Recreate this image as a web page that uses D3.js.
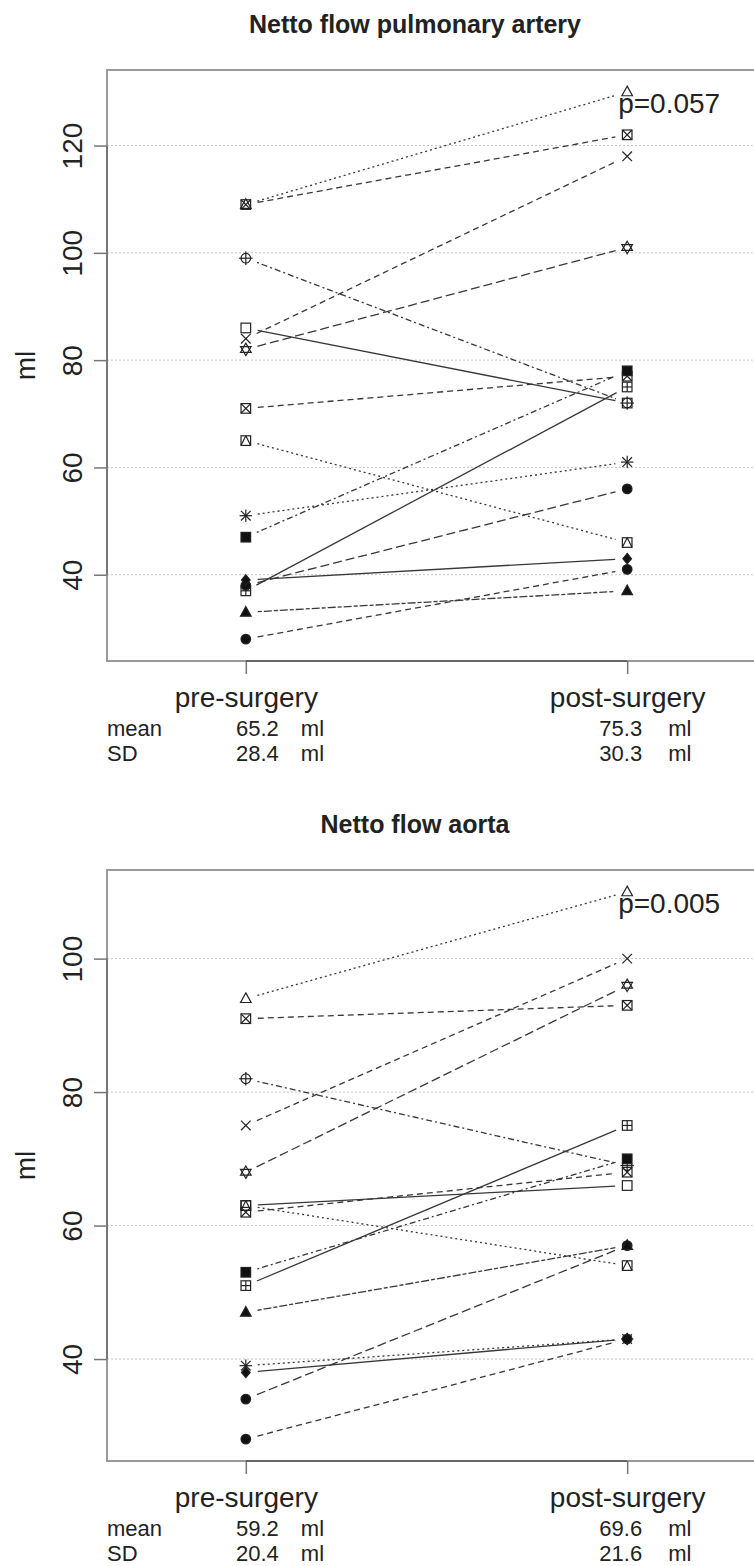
<!DOCTYPE html>
<html>
<head>
<meta charset="utf-8">
<script src="https://cdn.jsdelivr.net/npm/d3@7"></script>
<style>
    body { margin: 0; background: #fff; }
    text { font-family: "Liberation Sans", Arial, Helvetica, sans-serif; fill: #222; }
</style>
</head>
<body>
<svg id="drawing_region"></svg>
<script>
// one entry per patient, same order in every array
const subjects = ['P01','P02','P03','P04','P05','P06','P07','P08','P09','P10','P11','P12','P13','P14','P15'];
const timeLabels = ['pre-surgery', 'post-surgery'];

const arteryPre  = [86, 109, 84, 109, 51, 99, 82, 37, 71, 65, 47, 38, 33, 39, 28];
const arteryPost = [72, 130, 118, 122, 61, 72, 101, 75, 77, 46, 78, 56, 37, 43, 41];
const aortaPre   = [63, 94, 75, 91, 39, 82, 68, 51, 62, 63, 53, 34, 47, 38, 28];
const aortaPost  = [66, 110, 100, 93, 43, 69, 96, 75, 68, 54, 70, 57, 57, 43, 43];

const arteryTicks = [40, 60, 80, 100, 120];
const aortaTicks  = [40, 60, 80, 100];

const arteryMean = ['65.2', '75.3'];
const arterySD   = ['28.4', '30.3'];
const aortaMean  = ['59.2', '69.6'];
const aortaSD    = ['20.4', '21.6'];

const titles  = ['Netto flow pulmonary artery', 'Netto flow aorta'];
const pValues = ['p=0.057', 'p=0.005'];

// plotting symbol and line type per patient (like pch / lty in R)
const pch = ['square','triangle','cross','squareX','asterisk','circlePlus','star6','squarePlus',
             'squareX','squareTri','fSquare','fCircle','fTriangle','fDiamond','fCircle'];
const lty = ['solid','dotted','dashed','dashed','dotted','dotdash','longdash','solid',
             'dashed','dotted','dotdash','longdash','twodash','solid','dashed'];
const dashes = { solid: null, dashed: '6,4', dotted: '2,3', dotdash: '2,3,6,3', longdash: '9,4', twodash: '4,2,8,2' };

const W = 754, H = 1566;
const svg = d3.select('#drawing_region').attr('width', W).attr('height', H);
svg.append('rect').attr('width', W).attr('height', H).attr('fill', '#fff');

function drawSymbol(g, type, cx, cy) {
    const r = 4.8;
    const s = g.append('g')
        .attr('transform', `translate(${cx},${cy})`)
        .attr('stroke', '#222')
        .attr('stroke-width', 1.2)
        .attr('fill', 'none');
    const rect = () => s.append('rect').attr('x', -r).attr('y', -r).attr('width', 2*r).attr('height', 2*r);
    const line = (x1, y1, x2, y2) => s.append('line').attr('x1', x1).attr('y1', y1).attr('x2', x2).attr('y2', y2);
    const poly = pts => s.append('polygon').attr('points', pts.map(p => p.join(',')).join(' '));
    switch (type) {
        case 'square': rect(); break;
        case 'triangle': poly([[0,-r*1.2],[r*1.1,r*0.8],[-r*1.1,r*0.8]]); break;
        case 'cross': line(-r,-r,r,r); line(-r,r,r,-r); break;
        case 'squareX': rect(); line(-r,-r,r,r); line(-r,r,r,-r); break;
        case 'asterisk': line(-r,-r,r,r); line(-r,r,r,-r); line(0,-r*1.3,0,r*1.3); line(-r*1.3,0,r*1.3,0); break;
        case 'circlePlus': s.append('circle').attr('r', r); line(0,-r*1.4,0,r*1.4); line(-r*1.4,0,r*1.4,0); break;
        case 'star6': poly([[0,-r*1.3],[r*1.1,r*0.6],[-r*1.1,r*0.6]]); poly([[0,r*1.3],[r*1.1,-r*0.6],[-r*1.1,-r*0.6]]); break;
        case 'squarePlus': rect(); line(0,-r,0,r); line(-r,0,r,0); break;
        case 'squareTri': rect(); line(-r,r,0,-r); line(0,-r,r,r); break;
        case 'fSquare': rect().attr('fill', '#111'); break;
        case 'fCircle': s.append('circle').attr('r', r).attr('fill', '#111'); break;
        case 'fTriangle': poly([[0,-r*1.2],[r*1.1,r*0.8],[-r*1.1,r*0.8]]).attr('fill', '#111'); break;
        case 'fDiamond': poly([[0,-r*1.1],[r*0.9,0],[0,r*1.1],[-r*0.9,0]]).attr('fill', '#111'); break;
    }
}

function drawPanel(cfg) {
    const top = cfg.top, bottom = cfg.top + 591, left = 107, right = 766;
    const g = svg.append('g');

    // R style 4% extension of the ranges
    const xlim = [0.7, 2.3];
    const xpad = (xlim[1] - xlim[0]) * 0.04;
    const x = d3.scaleLinear().domain([xlim[0] - xpad, xlim[1] + xpad]).range([left, right]);

    const ext = d3.extent(cfg.pre.concat(cfg.post));
    const ypad = (ext[1] - ext[0]) * 0.04;
    const y = d3.scaleLinear().domain([ext[0] - ypad, ext[1] + ypad]).range([bottom, top]);

    // grid
    g.selectAll('.grid').data(cfg.ticks).enter().append('line')
        .attr('x1', left).attr('x2', right)
        .attr('y1', d => y(d)).attr('y2', d => y(d))
        .attr('stroke', '#c4c4c4').attr('stroke-width', 1)
        .attr('stroke-dasharray', '2,2');

    // box
    g.append('rect')
        .attr('x', left).attr('y', top)
        .attr('width', right - left).attr('height', bottom - top)
        .attr('fill', 'none').attr('stroke', '#9a9a9a').attr('stroke-width', 2);

    // y axis
    const yAxis = g.append('g').attr('transform', `translate(${left},0)`)
        .call(d3.axisLeft(y).tickValues(cfg.ticks).tickSize(13).tickFormat(d3.format('d')));
    yAxis.select('.domain').remove();
    yAxis.append('line')
        .attr('y1', y(cfg.ticks[0])).attr('y2', y(cfg.ticks[cfg.ticks.length - 1]))
        .attr('stroke', '#777').attr('stroke-width', 2);
    yAxis.selectAll('.tick line').attr('stroke', '#777').attr('stroke-width', 1.5);
    yAxis.selectAll('.tick text')
        .attr('x', null).attr('dy', null)
        .attr('text-anchor', 'middle')
        .attr('transform', 'translate(-25,0) rotate(-90)')
        .style('font-size', '28px')
        .style('font-family', '"Liberation Sans", Arial, sans-serif')
        .attr('fill', '#222');

    // x axis
    const xAxis = g.append('g').attr('transform', `translate(0,${bottom})`)
        .call(d3.axisBottom(x).tickValues([1, 2]).tickSize(13).tickFormat(d => timeLabels[d - 1]));
    xAxis.select('.domain').remove();
    xAxis.append('line')
        .attr('x1', x(1)).attr('x2', x(2))
        .attr('stroke', '#666').attr('stroke-width', 2);
    xAxis.selectAll('.tick line').attr('stroke', '#777').attr('stroke-width', 1.5);
    xAxis.selectAll('.tick text')
        .attr('y', 46).attr('dy', null)
        .style('font-size', '28px')
        .style('font-family', '"Liberation Sans", Arial, sans-serif')
        .attr('fill', '#222');

    // y label
    g.append('text')
        .attr('transform', `translate(35,${(top + bottom) / 2}) rotate(-90)`)
        .attr('text-anchor', 'middle')
        .style('font-size', '28px')
        .text('ml');

    // title
    g.append('text')
        .attr('x', 415).attr('y', top - 37)
        .attr('text-anchor', 'middle')
        .style('font-size', '25px').style('font-weight', 'bold')
        .text(cfg.title);

    // connecting lines with small gaps around the points
    const gap = 12;
    cfg.pre.forEach((v, i) => {
        const x1 = x(1), y1 = y(v), x2 = x(2), y2 = y(cfg.post[i]);
        const len = Math.hypot(x2 - x1, y2 - y1);
        const ux = (x2 - x1) / len, uy = (y2 - y1) / len;
        g.append('line')
            .attr('x1', x1 + ux * gap).attr('y1', y1 + uy * gap)
            .attr('x2', x2 - ux * gap).attr('y2', y2 - uy * gap)
            .attr('stroke', '#383838').attr('stroke-width', 1.3)
            .attr('stroke-dasharray', dashes[lty[i]]);
    });

    // points
    subjects.forEach((s, i) => {
        drawSymbol(g, pch[i], x(1), y(cfg.pre[i]));
        drawSymbol(g, pch[i], x(2), y(cfg.post[i]));
    });

    // p value
    g.append('text')
        .attr('x', x(2) - 9).attr('y', y(ext[1]) + 21)
        .style('font-size', '28px')
        .text(cfg.p);

    // mean / SD rows
    const rows = [['mean', cfg.mean, 75], ['SD', cfg.sd, 100]];
    rows.forEach(r => {
        const yy = bottom + r[2];
        g.append('text').attr('x', left).attr('y', yy).style('font-size', '22px').text(r[0]);
        [1, 2].forEach((t, k) => {
            const off = k === 0 ? [33, 55] : [15, 41];
            g.append('text').attr('x', x(t) + off[0]).attr('y', yy)
                .attr('text-anchor', 'end').style('font-size', '22px').text(r[1][k]);
            g.append('text').attr('x', x(t) + off[1]).attr('y', yy)
                .style('font-size', '22px').text('ml');
        });
    });
}

drawPanel({ top: 70, title: titles[0], pre: arteryPre, post: arteryPost, ticks: arteryTicks,
            p: pValues[0], mean: arteryMean, sd: arterySD });
drawPanel({ top: 870, title: titles[1], pre: aortaPre, post: aortaPost, ticks: aortaTicks,
            p: pValues[1], mean: aortaMean, sd: aortaSD });
</script>
</body>
</html>
